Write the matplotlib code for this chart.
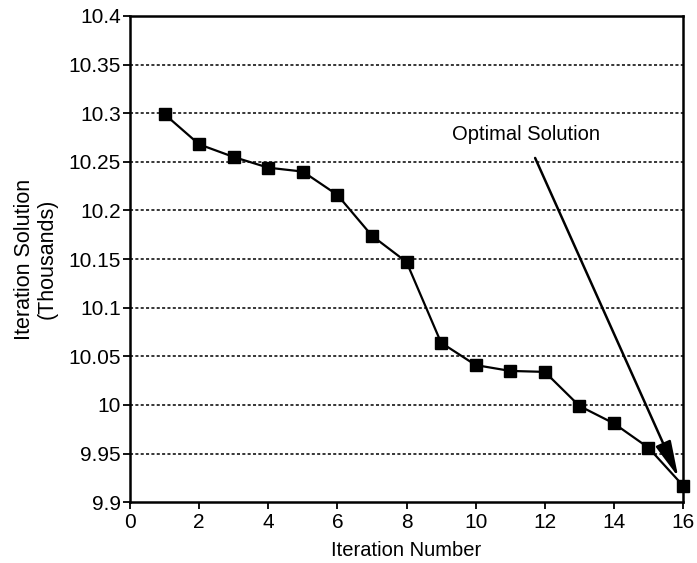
import matplotlib
matplotlib.use("Agg")
import matplotlib.pyplot as plt

iterations = list(range(1, 17))
solutions = [10.299, 10.268, 10.255, 10.244, 10.240, 10.216, 10.174, 10.147,
             10.064, 10.041, 10.035, 10.034, 9.999, 9.981, 9.956, 9.917]
x_ticks = [0, 2, 4, 6, 8, 10, 12, 14, 16]
y_ticks = [9.9, 9.95, 10.0, 10.05, 10.1, 10.15, 10.2, 10.25, 10.3, 10.35, 10.4]
y_labels = ["9.9", "9.95", "10", "10.05", "10.1", "10.15", "10.2", "10.25", "10.3", "10.35", "10.4"]

plt.rcParams['font.family'] = ['Liberation Sans', 'DejaVu Sans']

fig = plt.figure(figsize=(6.97, 5.63), dpi=100)
ax = fig.add_axes([0.1865, 0.108, 0.7935, 0.8636])

# dotted horizontal grid
for yv in y_ticks[1:-1]:
    ax.axhline(yv, color='black', linestyle=(0, (2, 1.5)), linewidth=1.1, zorder=1)

ax.plot(iterations, solutions, color='black', linewidth=1.6, marker='s',
        markersize=8.5, markerfacecolor='black', zorder=3, clip_on=False)

ax.annotate('', xy=(15.86, 9.926), xytext=(11.72, 10.254),
            arrowprops=dict(arrowstyle='-|>,head_length=2.2,head_width=0.5',
                            mutation_scale=10, color='black', linewidth=1.8,
                            shrinkA=0, shrinkB=0))
ax.text(11.45, 10.278, 'Optimal Solution', ha='center', va='center', fontsize=14.5)

ax.set_xlim(0, 16)
ax.set_ylim(9.9, 10.4)
ax.set_xticks(x_ticks)
ax.set_yticks(y_ticks)
ax.set_yticklabels(y_labels)
ax.tick_params(direction='out', length=5, width=1.3, labelsize=15)
ax.tick_params(axis='x', pad=2.5)
ax.tick_params(axis='y', pad=1.5)
for s in ax.spines.values():
    s.set_linewidth(1.8)

ax.set_xlabel('Iteration Number', fontsize=14.5, labelpad=7)
ax.set_ylabel('Iteration Solution\n(Thousands)', fontsize=15.5, labelpad=8,
              linespacing=1.1)

fig.savefig('out.png', dpi=100)
